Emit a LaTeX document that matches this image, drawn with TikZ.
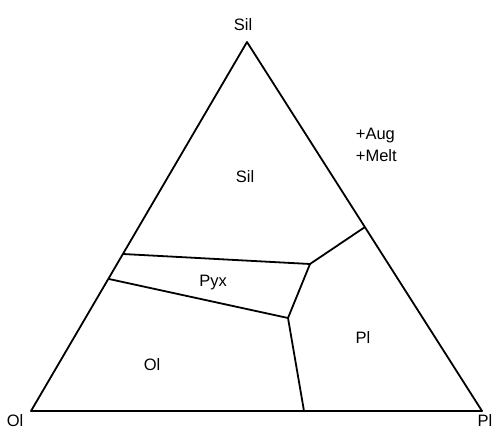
\documentclass[tikz,border=0pt]{standalone}
\usepackage{fontspec}
\setmainfont{Liberation Sans}
\usepackage{tikz}

\begin{document}
\begin{tikzpicture}[x=1pt,y=-1pt,line width=1.8pt,line join=round,font=\fontsize{16.5}{22}\selectfont]
\useasboundingbox (0,0) rectangle (494,430);
% corners of the triangle
\coordinate (sil) at (247,42);
\coordinate (ol) at (31,411);
\coordinate (pl) at (482,411);
% phase boundaries
\coordinate (a) at (123,254);
\coordinate (b) at (310,264);
\coordinate (c) at (365,227);
\coordinate (d) at (288,318);
\coordinate (e) at (109,279);
\coordinate (f) at (304,411);
\draw (sil) -- (pl) -- (ol) -- cycle;
\draw (a) -- (b) -- (c);
\draw (b) -- (d) -- (f);
\draw (e) -- (d);
% labels
\node (tsil) at (243,25) {Sil};
\node[inner sep=1pt] (tol) at (15,421) {Ol};
\node[inner sep=1pt] (tpl) at (485,421) {Pl};
\node (fsil) at (245,177) {Sil};
\node (fpyx) at (213,283) {Pyx};
\node (fol) at (152,365) {Ol};
\node (fpl) at (363,338) {Pl};
\node[anchor=west,align=left,inner sep=0pt] (melt) at (355,145) {+Aug\\+Melt};
\end{tikzpicture}
\end{document}
